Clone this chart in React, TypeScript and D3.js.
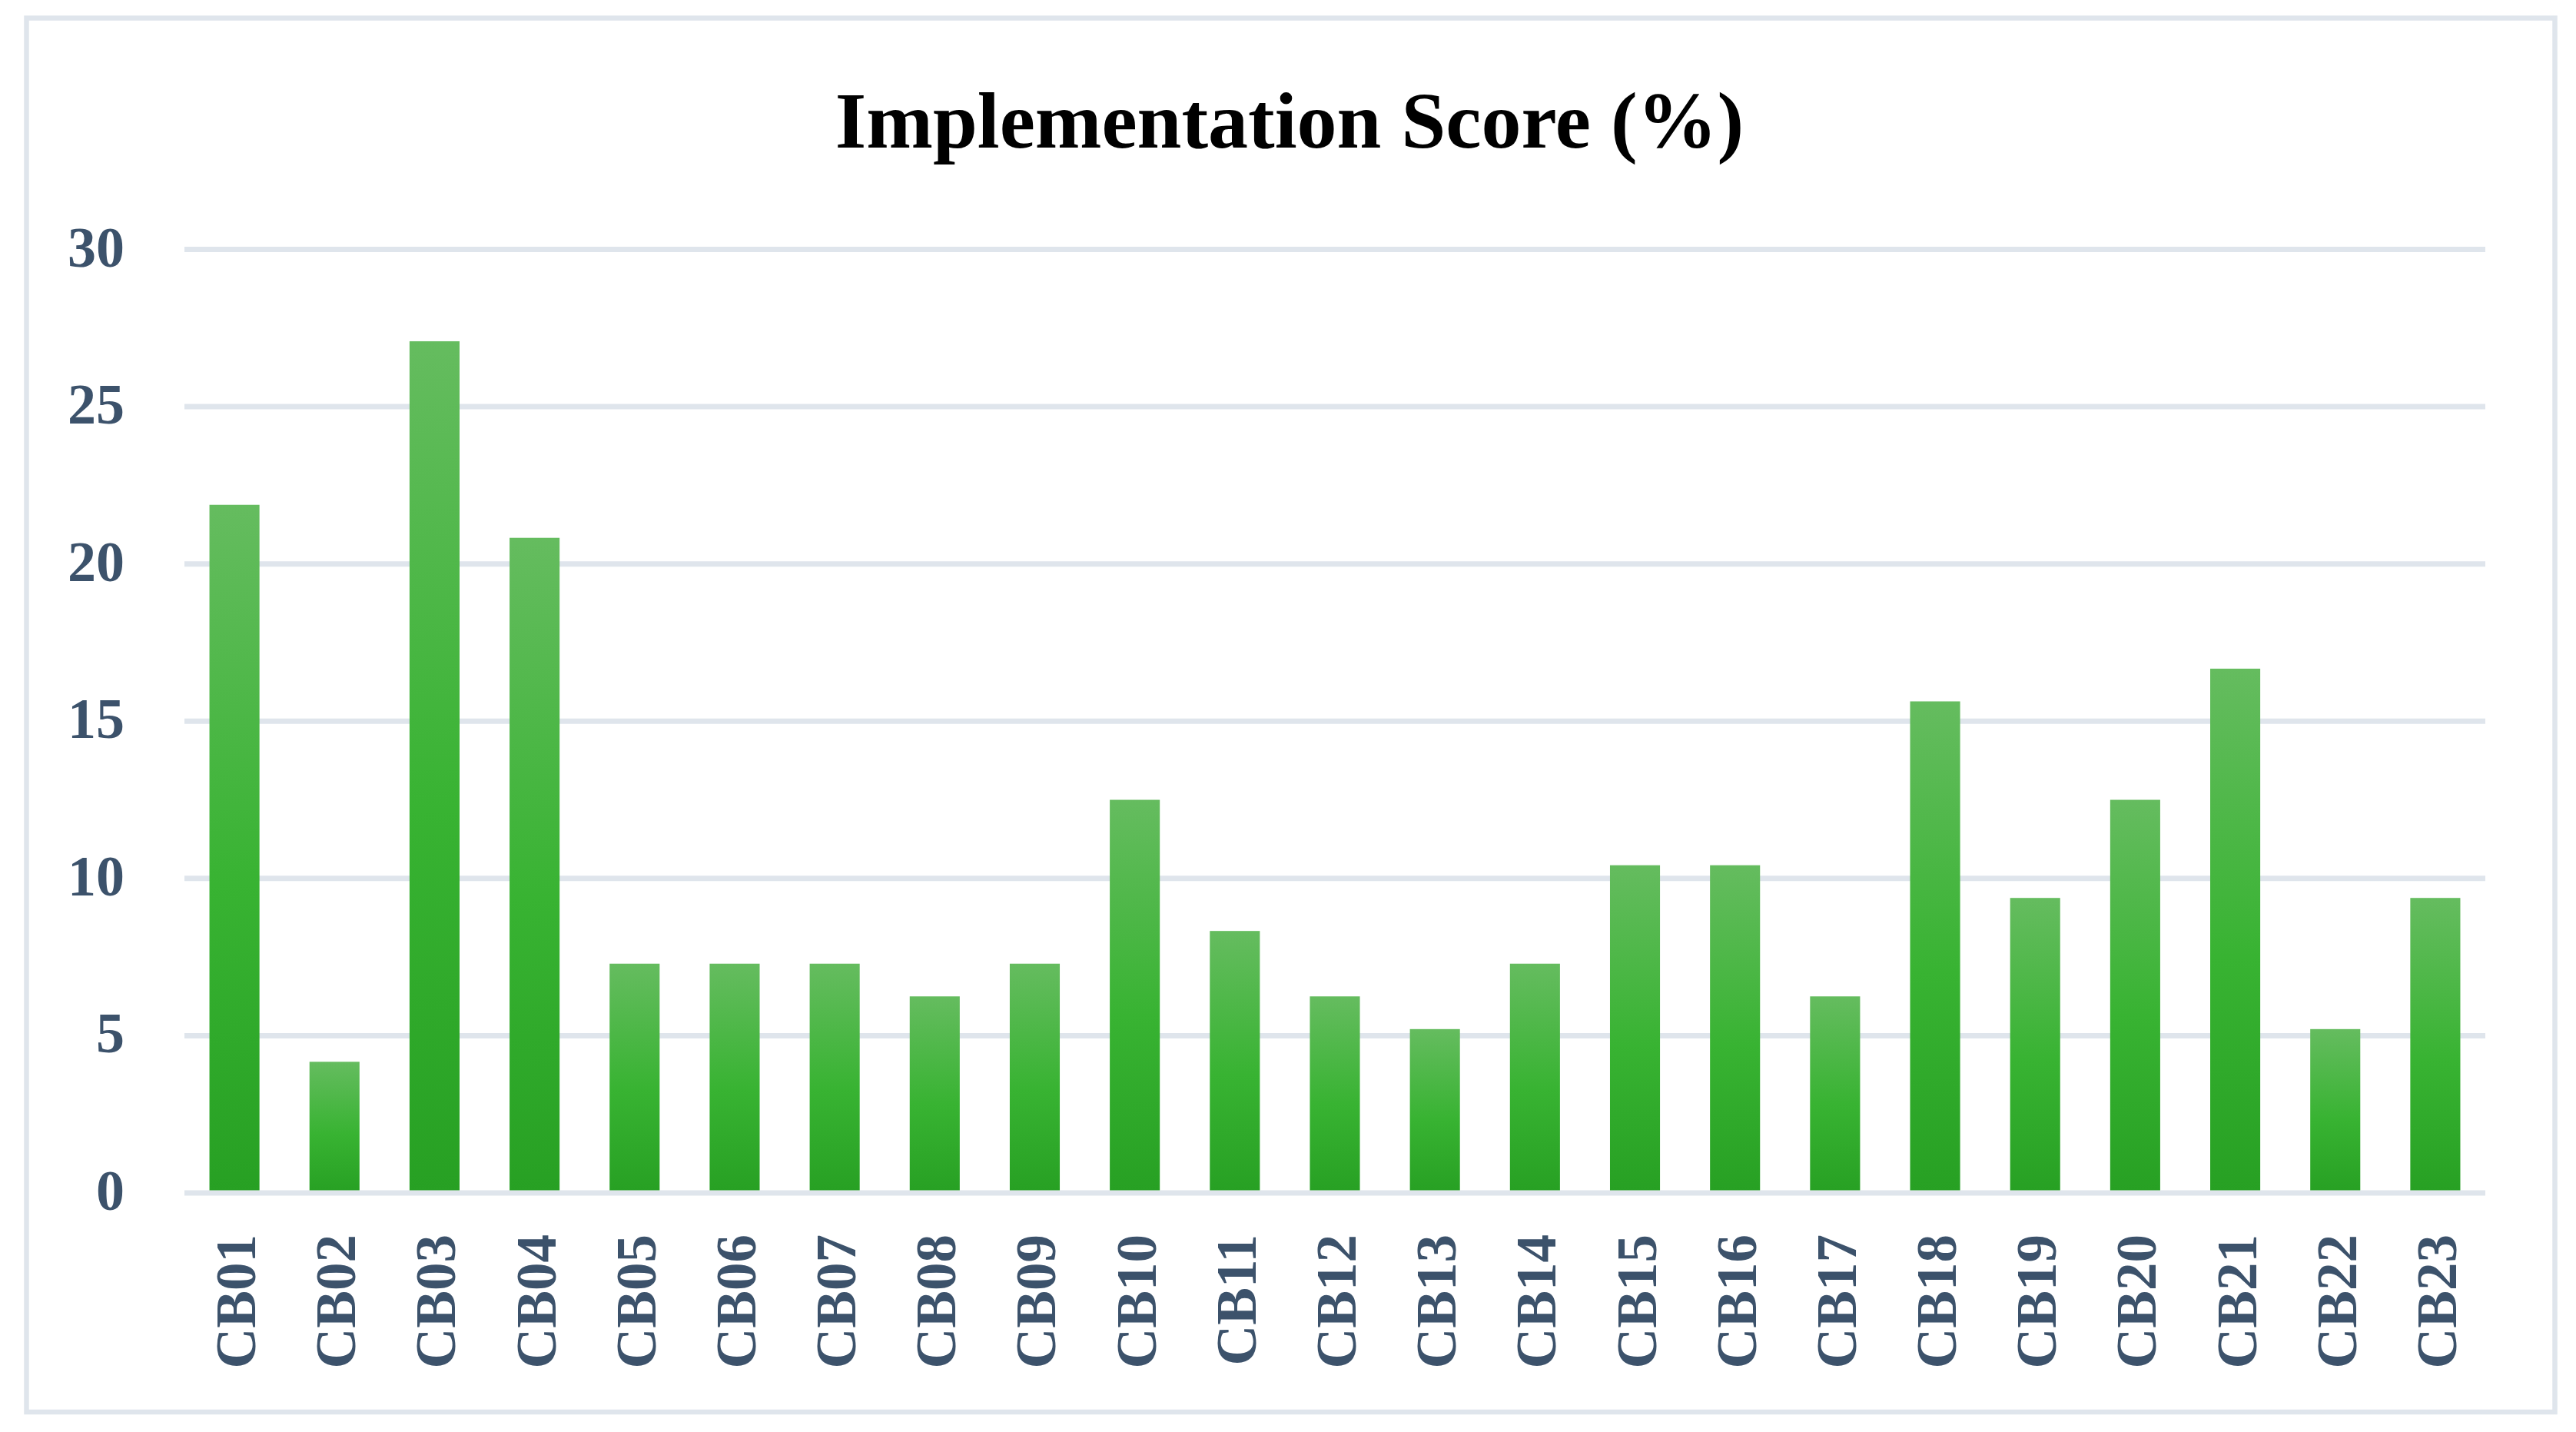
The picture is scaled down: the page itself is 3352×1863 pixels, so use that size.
import React from "react";
import * as d3 from "d3";

const categories = ["CB01","CB02","CB03","CB04","CB05","CB06","CB07","CB08","CB09","CB10","CB11","CB12","CB13","CB14","CB15","CB16","CB17","CB18","CB19","CB20","CB21","CB22","CB23"];
const scores = [21.88,4.17,27.08,20.83,7.29,7.29,7.29,6.25,7.29,12.5,8.33,6.25,5.21,7.29,10.42,10.42,6.25,15.63,9.38,12.5,16.67,5.21,9.38];
const yTicks = [0,5,10,15,20,25,30];
const title = "Implementation Score (%)";

const W = 3352, H = 1863;
const GRID = "#DFE5EC";
const TEXT = "#3C526B";
const FONT = "'Liberation Serif', 'Times New Roman', serif";

export default function App() {
  const x = d3.scaleBand<string>().domain(categories).range([240, 3234]).paddingInner(0.5).paddingOuter(0.25);
  const y = d3.scaleLinear().domain([0, 30]).range([1552, 324.5]);
  return (
    <svg width={W} height={H} viewBox={`0 0 ${W} ${H}`} style={{ position: "absolute", left: 0, top: 0, display: "block", background: "#fff" }}>
      <defs>
        <linearGradient id="barGrad" x1="0" y1="0" x2="0" y2="1">
          <stop offset="0" stopColor="#65BC5F" />
          <stop offset="0.55" stopColor="#38B332" />
          <stop offset="1" stopColor="#27A023" />
        </linearGradient>
      </defs>
      <rect x={0} y={0} width={W} height={H} fill="#fff" />
      <rect x={34.5} y={23.5} width={3324.5 - 34.5} height={1837 - 23.5} fill="none" stroke={GRID} strokeWidth={6.5} />
      <text x={1678} y={192} textAnchor="middle" fontFamily={FONT} fontWeight="bold" fontSize={104} fill="#000">{title}</text>
      {yTicks.filter(t => t !== 0).map(t => (
        <line key={"g" + t} x1={240} x2={3234} y1={y(t)} y2={y(t)} stroke={GRID} strokeWidth={7} />
      ))}
      {categories.map((c, i) => (
        <rect key={c} x={x(c)} y={y(scores[i])} width={x.bandwidth()} height={y(0) - y(scores[i])} fill="url(#barGrad)" />
      ))}
      <line x1={240} x2={3234} y1={y(0)} y2={y(0)} stroke={GRID} strokeWidth={7} />
      {yTicks.map(t => (
        <text key={"t" + t} x={162} y={y(t) + 22} textAnchor="end" fontFamily={FONT} fontWeight="bold" fontSize={74} fill={TEXT}>{t}</text>
      ))}
      {categories.map(c => {
        const cx = (x(c) as number) + x.bandwidth() / 2;
        return (
          <text key={"l" + c} transform={`translate(${cx + 27},1606) rotate(-90)`} textAnchor="end" fontFamily={FONT} fontWeight="bold" fontSize={73} fill={TEXT}>{c}</text>
        );
      })}
    </svg>
  );
}
